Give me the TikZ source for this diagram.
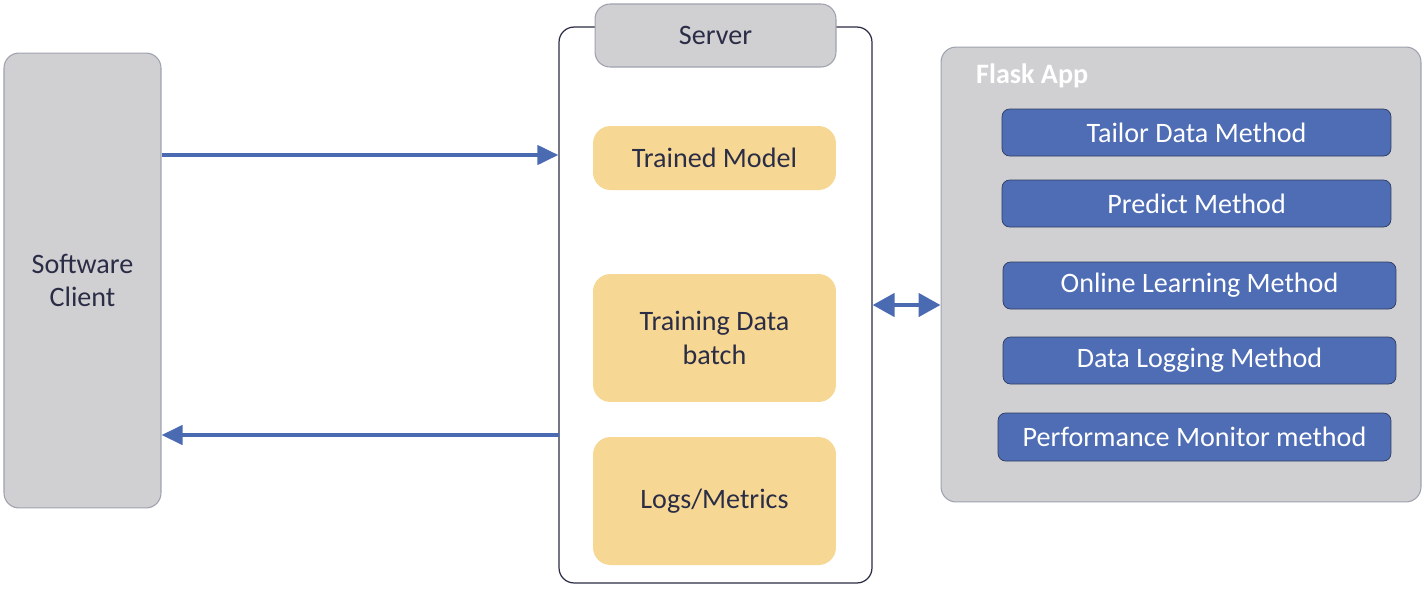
\documentclass[tikz,border=0pt]{standalone}
\usepackage{fontspec}
\setmainfont{Carlito}
\usetikzlibrary{arrows.meta,positioning}
\definecolor{boxgray}{HTML}{D0D0D3}
\definecolor{edgegray}{HTML}{9EA2AE}
\definecolor{boxyellow}{HTML}{F7D794}
\definecolor{boxblue}{HTML}{4F6DB4}
\definecolor{edgeblue}{HTML}{2E3B60}
\definecolor{navy}{HTML}{2A2D45}
\definecolor{arrowblue}{HTML}{4A6AB2}
\tikzstyle{grayblock}=[draw=edgegray, fill=boxgray, rounded corners=0.3cm, line width=0.6pt, align=center, text=navy]
\tikzstyle{store}=[fill=boxyellow, rounded corners=0.35cm, align=center, text=navy, minimum width=4.86cm]
\tikzstyle{method}=[draw=edgeblue, fill=boxblue, rounded corners=0.15cm, line width=0.4pt, text=white, minimum height=0.94cm]
\tikzstyle{link}=[draw=arrowblue, line width=2.4pt, -{Triangle[length=0.42cm,width=0.38cm]}]

\begin{document}
\begin{tikzpicture}[x=0.02cm,y=-0.02cm,font=\fontsize{16}{19}\selectfont]
        \useasboundingbox[fill=white] (0,0) rectangle (1425,589);
        % client and server
        \node [grayblock, minimum width=3.14cm, minimum height=9.1cm] (client) at (82.5,280.5) {Software\\Client};
        \node [draw=navy, line width=0.7pt, rounded corners=0.3cm, minimum width=6.26cm, minimum height=11.12cm] (server) at (715.5,305) {};
        \node [grayblock, minimum width=4.82cm, minimum height=1.26cm] (head) at (715.5,35.5) {Server};
        \node [store, minimum height=1.28cm] (model) at (714.5,158) {Trained Model};
        \node [store, minimum height=2.56cm] (batch) at (714.5,338) {Training Data\\batch};
        \node [store, minimum height=2.56cm] (logs) at (714.5,501) {Logs/Metrics};
        % flask app
        \node [grayblock, minimum width=9.6cm, minimum height=9.1cm] (flask) at (1181,274.5) {};
        \node [text=white, anchor=west, font=\fontsize{16}{19}\selectfont\bfseries] (title) at (970,76) {Flask App};
        \node [method, minimum width=7.78cm] (tailor) at (1196.5,132.5) {Tailor Data Method};
        \node [method, minimum width=7.78cm] (predict) at (1196.5,203.5) {Predict Method};
        \node [method, minimum width=7.86cm] (online) at (1199.5,285.5) {Online Learning Method};
        \node [method, minimum width=7.86cm] (logging) at (1199.5,360.5) {Data Logging Method};
        \node [method, minimum width=7.86cm, minimum height=0.96cm] (monitor) at (1194.5,437) {Performance Monitor method};
        \coordinate (back) at (559,435);
        \draw[link] (client.east |- 0,155) -- (server.west |- 0,155);
        \draw[link] (back) -- (client.east |- back);
        \draw [draw=arrowblue, line width=2.6pt, {Triangle[length=0.44cm,width=0.46cm]}-{Triangle[length=0.44cm,width=0.46cm]}] (server.east) -- (flask.west |- server.east);
    \end{tikzpicture}
\end{document}
